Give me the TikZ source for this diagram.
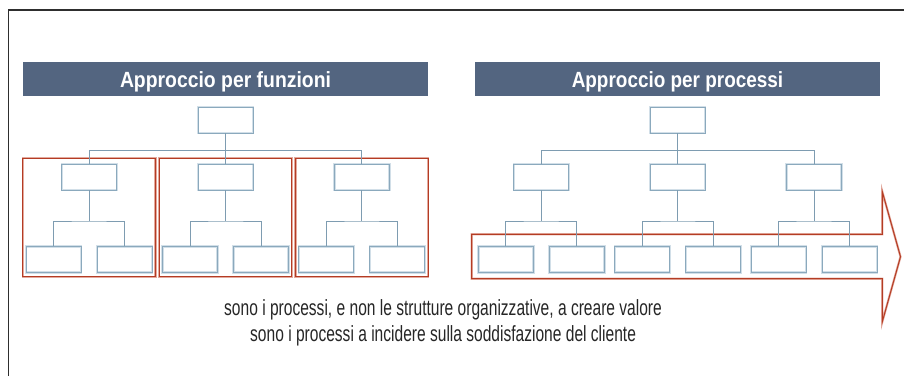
\documentclass[tikz,border=0pt]{standalone}
\usepackage{fontspec}
\setmainfont{Liberation Sans}
\usepackage{graphicx}
\usetikzlibrary{calc}
\definecolor{hdr}{HTML}{536580}
\definecolor{boxln}{HTML}{8BA9BD}
\definecolor{boxglow}{HTML}{D2DFE8}
\definecolor{conn}{HTML}{7E9CB1}
\definecolor{redln}{HTML}{B43C24}
\definecolor{redglow}{HTML}{E3AA9E}
\definecolor{txt}{HTML}{262626}
\definecolor{framecol}{HTML}{2E2E2E}
\tikzset{
  orgbox/.style={draw=boxln, line width=0.9pt, minimum width=55pt, minimum height=26pt,
    inner sep=0pt, outer sep=0pt, preaction={draw=boxglow, line width=2.4pt}},
  connline/.style={draw=conn, line width=0.9pt},
  redframe/.style={draw=redln, line width=1pt, line join=miter,
    preaction={draw=redglow, line width=2.2pt}},
  redbox/.style={redframe, minimum width=132.5pt, minimum height=118.7pt, inner sep=0pt, outer sep=0pt},
  hdrbar/.style={fill=hdr, minimum width=405pt, minimum height=34pt, inner sep=0pt, outer sep=0pt},
  hdrtext/.style={text=white, anchor=base, inner sep=0pt},
  captext/.style={text=txt, anchor=base west, inner sep=0pt},
  framelinestyle/.style={draw=framecol, line width=1.5pt},
}
\newcommand\orgtree[2]{%
  \node[orgbox] (#1t) at (#2+225.5,120) {};
  \node[orgbox] (#1m1) at (#2+89.2,177) {};
  \node[orgbox] (#1m2) at (#2+225.5,177) {};
  \node[orgbox] (#1m3) at (#2+361.8,177) {};
  \draw[connline] (#1t.south) -- (#1m2.north);
  \draw[connline] (#1m1.north) |- ($(#1t.south)+(0,17.5)$) -| (#1m3.north);
  \foreach \i in {1,2,3} {
    \node[orgbox] (#1a\i) at ($(#1m\i)+(-35.5,82.3)$) {};
    \node[orgbox] (#1b\i) at ($(#1m\i)+(35.5,82.3)$) {};
    \draw[connline] (#1m\i.south) -- ++(0,31);
    \draw[connline] (#1a\i.north) |- ($(#1m\i.south)+(0,31)$) -| (#1b\i.north);
  }
}
\newcommand\capfont{\fontsize{22}{22}\selectfont}
\newcommand\hdrfont{\fontsize{22}{22}\selectfont\bfseries}
\newlength\capwidthA
\begin{document}
\settowidth\capwidthA{\capfont sono i processi, e non le strutture organizzative, a creare valore}
\pgfmathsetmacro\capscale{437.7/\capwidthA}
\begin{tikzpicture}[x=1pt,y=-1pt]
\useasboundingbox (0,0) rectangle (904,376);
% frame
\draw[framelinestyle] (8.5,376) -- (8.5,10) -- (904,10);
% headers
\node[hdrbar] (h1) at (225.5,79) {};
\node[hdrtext] (h1t) at (225.5,87.3) {\resizebox{211pt}{\height}{\hdrfont Approccio per funzioni}};
\node[hdrbar] (h2) at (677.5,79) {};
\node[hdrtext] (h2t) at (677.5,87.3) {\resizebox{211.5pt}{\height}{\hdrfont Approccio per processi}};
% red frames (functions)
\node[redbox] (f1) at (89.2,217.6) {};
\node[redbox] (f2) at (225.6,217.6) {};
\node[redbox] (f3) at (361.8,217.6) {};
% process arrow
\draw[redframe] (471.7,234.3) -- (882.3,234.3) -- (882.3,191.7) -- (900.5,256.7)
  -- (882.3,321.7) -- (882.3,278.7) -- (471.7,278.7) -- cycle;
% trees
\orgtree{L}{0}
\orgtree{R}{452.2}
% captions
\node[captext] (c1) at (224,315.7) {\scalebox{\capscale}[1]{\capfont sono i processi, e non le strutture organizzative, a creare valore}};
\node[captext] (c2) at (250,341.5) {\scalebox{\capscale}[1]{\capfont sono i processi a incidere sulla soddisfazione del cliente}};
\end{tikzpicture}
\end{document}
